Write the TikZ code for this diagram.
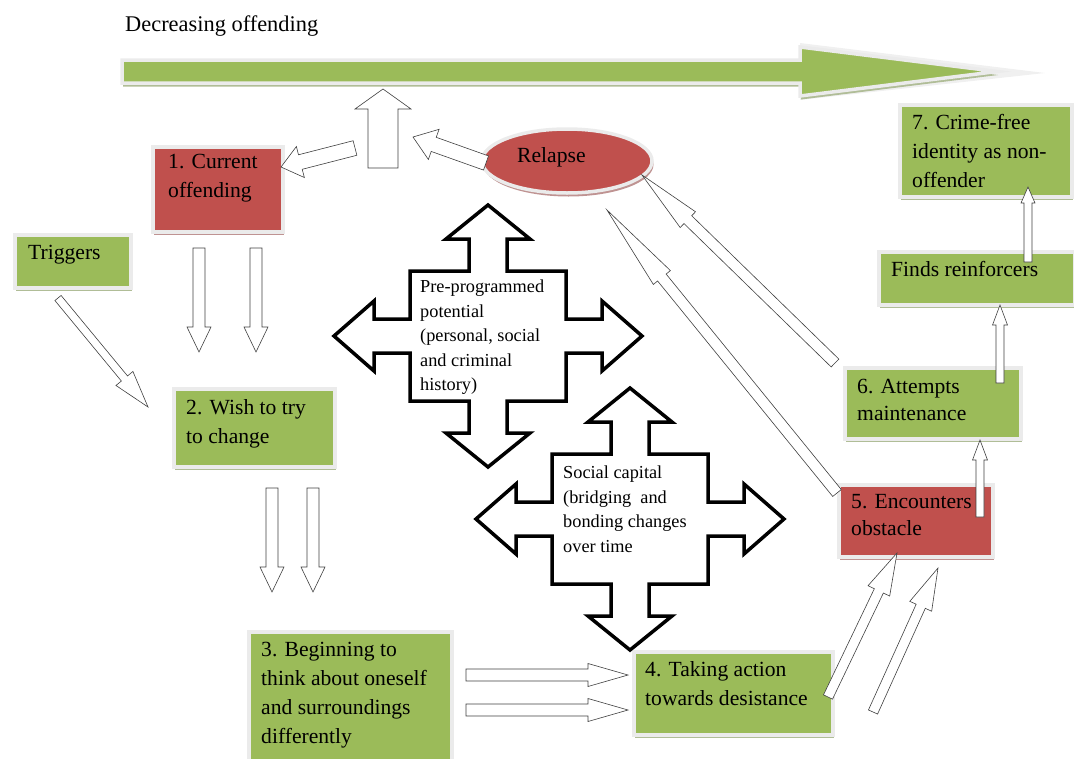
\documentclass[tikz,border=0pt]{standalone}
\usepackage{fontspec}
\setmainfont{Liberation Serif}
\usetikzlibrary{calc,shadows,shapes.geometric}

\definecolor{stepgreen}{HTML}{9BBB59}
\definecolor{stepred}{HTML}{C0504D}

% hollow block arrow: [style]{tail}{tip}{half shaft}{half head}{head length}
\newcommand{\blockarrow}[6][]{%
    \coordinate (hb) at ($(#3)!#6!(#2)$);
    \draw[hollow,#1] ($(#2)!#4!90:(#3)$) -- ($(hb)!#4!90:(#3)$) -- ($(hb)!#5!90:(#3)$) -- (#3)
        -- ($(hb)!#5!-90:(#3)$) -- ($(hb)!#4!-90:(#3)$) -- ($(#2)!#4!-90:(#3)$) -- cycle;
}

\begin{document}
\begin{tikzpicture}[x=1pt, y=-1pt,
        stepbox/.style={rectangle, anchor=north west, inner sep=0pt, draw=black!8, line width=3.5pt, fill=#1,
            drop shadow={shadow xshift=1.5pt, shadow yshift=-3.5pt, opacity=1, fill=#1!55!gray!70}},
        steptext/.style={anchor=north west, align=left, inner sep=0pt, font=\fontsize{21.6}{29}\selectfont},
        quadtext/.style={anchor=north west, align=left, inner sep=0pt, font=\fontsize{18.3}{24.5}\selectfont},
        hollow/.style={draw=black!75, fill=white, line width=0.6pt, line join=miter},
        quad/.pic={
            \draw[fill=white, line width=3.5pt, line join=miter] (0,-131) -- (42,-97) -- (19,-97) -- (19,-65) -- (78,-65)
                -- (78,-17) -- (114,-17) -- (114,-35) -- (154,0) -- (114,35) -- (114,17) -- (78,17) -- (78,65)
                -- (19,65) -- (19,97) -- (42,97) -- (0,131) -- (-42,97) -- (-19,97) -- (-19,65) -- (-78,65)
                -- (-78,17) -- (-114,17) -- (-114,35) -- (-154,0) -- (-114,-35) -- (-114,-17) -- (-78,-17)
                -- (-78,-65) -- (-19,-65) -- (-19,-97) -- (-42,-97) -- cycle;
        }
    ]
        \useasboundingbox (0,0) rectangle (1074,758);

        \node[anchor=base west, inner sep=0pt, font=\fontsize{22.4}{26}\selectfont] (title) at (125,31) {Decreasing offending};
        \fill[black!6] (800,43) -- (1045,73) -- (800,100) -- cycle;
        \draw[fill=stepgreen, draw=black!8, line width=3.5pt, line join=miter,
            drop shadow={shadow xshift=1pt, shadow yshift=-3.5pt, opacity=1, fill=stepgreen!55!gray!70}]
            (122,60) -- (800,60) -- (800,47) -- (997,71.5) -- (800,96) -- (800,83) -- (122,83) -- cycle;

        % boxes
        \node[stepbox=stepred, minimum width=130pt, minimum height=85pt] (cur) at (151,145) {};
        \node[stepbox=stepgreen, minimum width=116pt, minimum height=53pt] (trig) at (13,233) {};
        \node[stepbox=stepgreen, minimum width=161pt, minimum height=78pt] (wish) at (172,387) {};
        \node[stepbox=stepgreen, minimum width=203pt, minimum height=140pt] (think) at (247,630) {};
        \node[stepbox=stepgreen, minimum width=199pt, minimum height=83pt] (act) at (632,650) {};
        \node[stepbox=stepred, minimum width=154pt, minimum height=72pt] (obst) at (837,483) {};
        \node[stepbox=stepgreen, minimum width=176pt, minimum height=71pt] (maint) at (843,366) {};
        \node[stepbox=stepgreen, minimum width=196pt, minimum height=53pt] (reinf) at (877,250) {};
        \node[stepbox=stepgreen, minimum width=172pt, minimum height=92pt] (free) at (898,103) {};
        \node[stepbox=stepred, anchor=center, ellipse, minimum width=170pt, minimum height=64pt] (rel) at (567,161) {};

        \node[steptext] (cur-t) at (168,154) {1. Current\\offending};
        \node[steptext] (trig-t) at (28,245) {Triggers};
        \node[steptext] (wish-t) at (186,399) {2. Wish to try\\to change};
        \node[steptext] (think-t) at (261,642) {3. Beginning to\\think about oneself\\and surroundings\\differently};
        \node[steptext] (act-t) at (645,661) {4. Taking action\\towards desistance};
        \node[steptext, font=\fontsize{21.6}{27}\selectfont] (obst-t) at (851,494) {5. Encounters\\obstacle};
        \node[steptext, font=\fontsize{21.6}{27}\selectfont] (maint-t) at (857,379) {6. Attempts\\maintenance};
        \node[steptext] (reinf-t) at (891,261) {Finds reinforcers};
        \node[steptext] (free-t) at (912,114) {7. Crime-free\\identity as non-\\offender};
        \node[steptext] (rel-t) at (517,147) {Relapse};

        % influences
        \pic (pot) at (488,336) {quad};
        \pic (soc) at (630,519) {quad};
        \node[quadtext] (pot-t) at (420,280) {Pre-programmed\\potential\\(personal, social\\and criminal\\history)};
        \node[quadtext] (soc-t) at (563,466) {Social capital\\(bridging\ \ and\\bonding changes\\over time};

        % arrows
        \coordinate (lift-s) at (383,168);
        \coordinate (lift-e) at (383,89);
        \coordinate (back-s) at (355,148);
        \coordinate (back-e) at (281,167);
        \coordinate (fall-s) at (486,163);
        \coordinate (fall-e) at (413,137);
        \coordinate (trig-s) at (58,298);
        \coordinate (trig-e) at (148,407);
        \blockarrow{lift-s}{lift-e}{15pt}{28pt}{20pt}
        \blockarrow{back-s}{back-e}{7.5pt}{16pt}{20pt}
        \blockarrow{fall-s}{fall-e}{7.5pt}{16pt}{22pt}
        \blockarrow{trig-s}{trig-e}{4pt}{11pt}{37pt}
        \foreach \x in {199,256} {
            \coordinate (d1-s) at (\x,248);
            \coordinate (d1-e) at (\x,352);
            \blockarrow{d1-s}{d1-e}{6pt}{12pt}{25pt}
        }
        \foreach \x in {272,313} {
            \coordinate (d2-s) at (\x,488);
            \coordinate (d2-e) at (\x,592);
            \blockarrow{d2-s}{d2-e}{6pt}{12pt}{25pt}
        }
        \foreach \y in {675,710} {
            \coordinate (r-s) at (466,\y);
            \coordinate (r-e) at (628,\y);
            \blockarrow{r-s}{r-e}{6pt}{11.5pt}{40pt}
        }
        \coordinate (up1-s) at (828,697);
        \coordinate (up1-e) at (897,553);
        \coordinate (up2-s) at (873,712);
        \coordinate (up2-e) at (938,568);
        \blockarrow{up1-s}{up1-e}{5pt}{12pt}{42pt}
        \blockarrow{up2-s}{up2-e}{5pt}{12pt}{42pt}
        \coordinate (relA-s) at (835,363);
        \coordinate (relA-e) at (642,175);
        \coordinate (relB-s) at (837,493);
        \coordinate (relB-e) at (607,210);
        \blockarrow{relA-s}{relA-e}{5.5pt}{11pt}{64pt}
        \blockarrow{relB-s}{relB-e}{5.5pt}{11pt}{87pt}
        \coordinate (m-s) at (980,517);
        \coordinate (m-e) at (980,440);
        \coordinate (f-s) at (1000,383);
        \coordinate (f-e) at (1000,305);
        \coordinate (c-s) at (1028,262);
        \coordinate (c-e) at (1028,187);
        \blockarrow{m-s}{m-e}{4pt}{7.5pt}{20pt}
        \blockarrow{f-s}{f-e}{4pt}{7.5pt}{20pt}
        \blockarrow{c-s}{c-e}{4pt}{7pt}{16pt}
    \end{tikzpicture}
\end{document}
